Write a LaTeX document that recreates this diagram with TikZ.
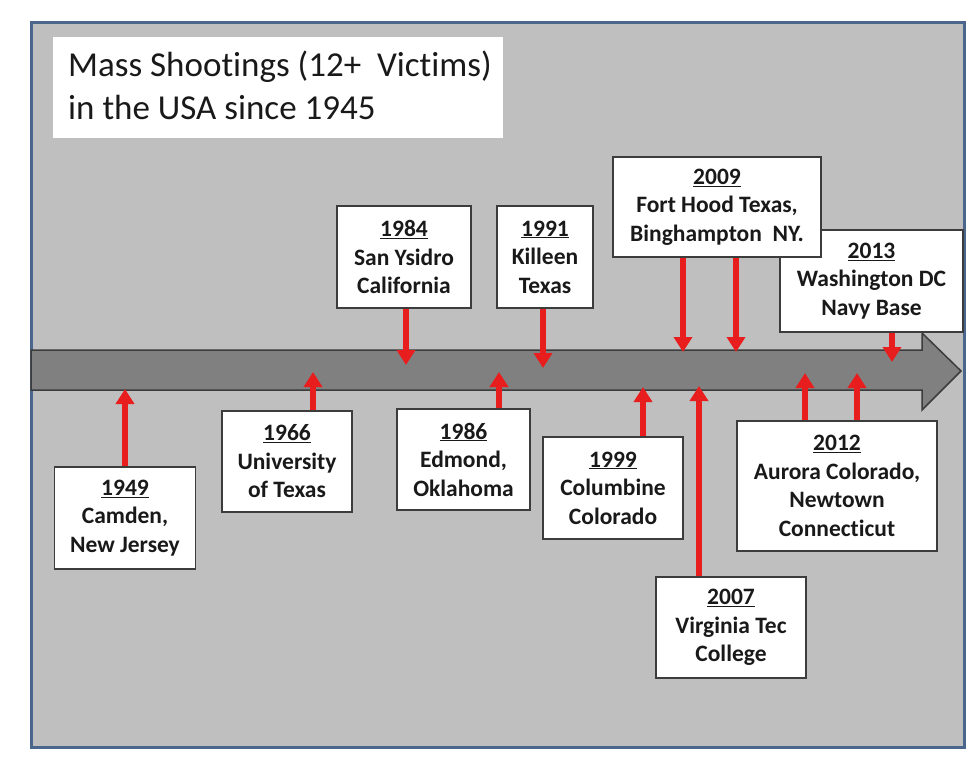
\documentclass[tikz,border=0pt]{standalone}
\usepackage{fontspec}
\setmainfont{Carlito}[Ligatures=NoCommon]
\usetikzlibrary{arrows.meta}
\definecolor{framebg}{RGB}{191,191,191}
\definecolor{frameline}{RGB}{74,102,140}
\definecolor{bandfill}{RGB}{128,128,128}
\definecolor{bandline}{RGB}{60,60,60}
\definecolor{boxline}{RGB}{60,60,60}
\definecolor{arrred}{RGB}{232,30,30}
\definecolor{txt}{RGB}{25,25,25}
\newcommand{\yr}[1]{\underline{#1}}
\begin{document}
\begin{tikzpicture}[x=1pt,y=-1pt,
  framebox/.style={draw=frameline, line width=3pt, fill=framebg, inner sep=0pt, minimum width=933pt, minimum height=724pt},
  titlebox/.style={fill=white, inner sep=0pt, minimum width=450pt, minimum height=101pt},
  titletext/.style={anchor=base west, inner sep=0pt, text=txt, font=\fontsize{35}{43}\selectfont},
  band/.style={fill=bandfill, draw=bandline, line width=1.5pt},
  evbox/.style={draw=boxline, line width=1.3pt, fill=white, inner sep=0pt, align=center, text=txt, font=\bfseries\fontsize{23.5}{28.5}\selectfont},
  redarr/.style={draw=arrred, line width=6pt, -{Triangle[width=18pt,length=15pt]}}
]
\useasboundingbox (0,0) rectangle (980,770);
% frame
\node[framebox] (frame) at (497.5,385) {};
% title
\node[titlebox] (tbox) at (278,87.5) {};
\node[titletext] (title1) at (68,77) {Mass Shootings (12+\ \ Victims)};
\node[titletext] (title2) at (68,120) {in the USA since 1945};
% timeline band
\path[band] (31,350) -- (922,350) -- (922,333) -- (961,371) -- (922,410) -- (922,390) -- (31,390) -- cycle;
% boxes above
\node[evbox, minimum width=183pt, minimum height=102pt] (e2013) at (871.5,281) {\yr{2013}\\Washington DC\\Navy Base};
\node[evbox, minimum width=208pt, minimum height=100pt] (e2009) at (717,207) {\yr{2009}\\Fort Hood Texas,\\Binghampton\ \ NY.};
\node[evbox, minimum width=134pt, minimum height=102pt] (e1984) at (404,257) {\yr{1984}\\San Ysidro\\California};
\node[evbox, minimum width=96pt, minimum height=102pt] (e1991) at (545,257) {\yr{1991}\\Killeen\\Texas};
% boxes below
\node[evbox, minimum width=141pt, minimum height=102pt] (e1949) at (125,518) {\yr{1949}\\Camden,\\New Jersey};
\node[evbox, minimum width=130pt, minimum height=101pt] (e1966) at (287,461.5) {\yr{1966}\\University\\of Texas};
\node[evbox, minimum width=133pt, minimum height=101pt] (e1986) at (463.5,459.5) {\yr{1986}\\Edmond,\\Oklahoma};
\node[evbox, minimum width=140pt, minimum height=102pt] (e1999) at (613,488) {\yr{1999}\\Columbine\\Colorado};
\node[evbox, minimum width=150pt, minimum height=101pt] (e2007) at (731,627.5) {\yr{2007}\\Virginia Tec\\College};
\node[evbox, minimum width=200pt, minimum height=130pt] (e2012) at (837,486) {\yr{2012}\\Aurora Colorado,\\Newtown\\Connecticut};
% arrow tips
\coordinate (t1949) at (125,389);
\coordinate (t1966) at (313,372);
\coordinate (t1984) at (406,365);
\coordinate (t1986) at (499,372);
\coordinate (t1991) at (543,368);
\coordinate (t1999) at (643,387);
\coordinate (t2007) at (699,386);
\coordinate (t2012a) at (805,373);
\coordinate (t2012b) at (857,373);
\coordinate (t2009a) at (683,352);
\coordinate (t2009b) at (736,352);
\coordinate (t2013) at (892,362);
% arrows
\draw[redarr] (e1949.north -| t1949) -- (t1949);
\draw[redarr] (e1966.north -| t1966) -- (t1966);
\draw[redarr] (e1986.north -| t1986) -- (t1986);
\draw[redarr] (e1999.north -| t1999) -- (t1999);
\draw[redarr] (e2007.north -| t2007) -- (t2007);
\draw[redarr] (e2012.north -| t2012a) -- (t2012a);
\draw[redarr] (e2012.north -| t2012b) -- (t2012b);
\draw[redarr] (e1984.south -| t1984) -- (t1984);
\draw[redarr] (e1991.south -| t1991) -- (t1991);
\draw[redarr] (e2009.south -| t2009a) -- (t2009a);
\draw[redarr] (e2009.south -| t2009b) -- (t2009b);
\draw[redarr] (e2013.south -| t2013) -- (t2013);
\end{tikzpicture}
\end{document}
